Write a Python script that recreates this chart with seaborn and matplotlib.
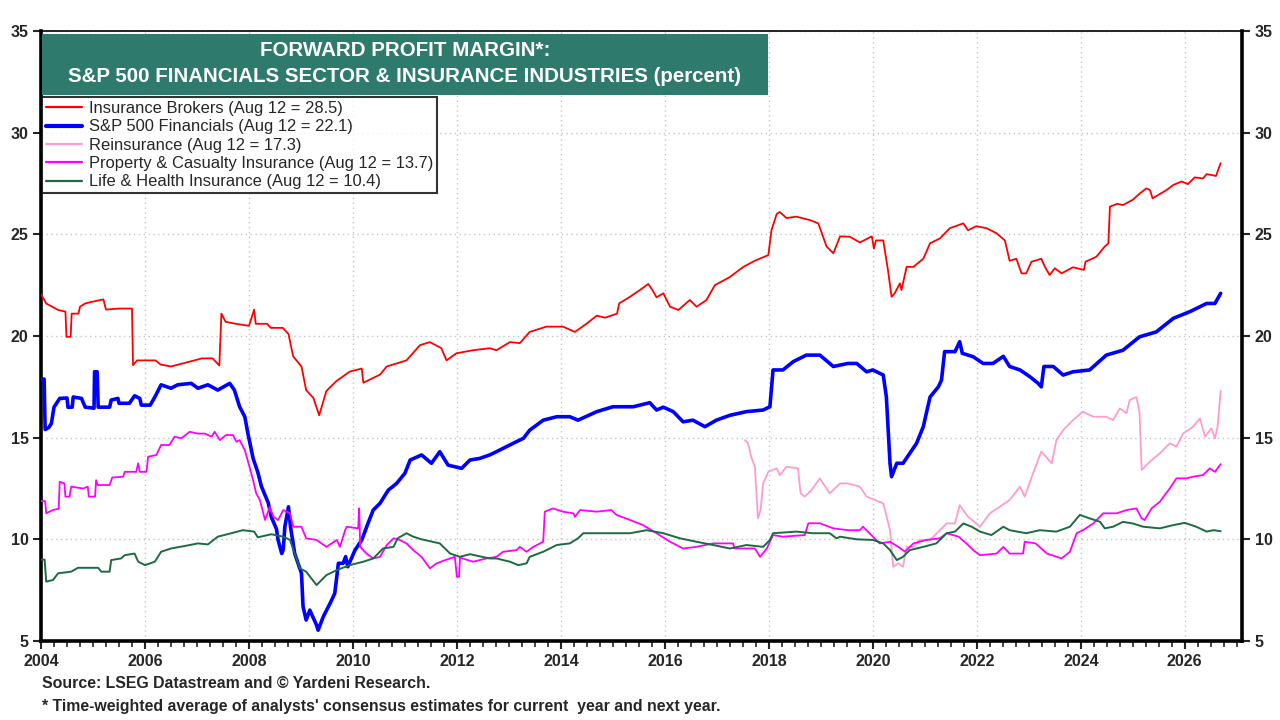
import numpy as np
import pandas as pd
import matplotlib
matplotlib.use("Agg")
import matplotlib.pyplot as plt
from matplotlib.patches import Rectangle
from matplotlib.lines import Line2D
from matplotlib.ticker import MultipleLocator
import seaborn as sns

# ---------------- data (decimal years, percent) ----------------
broker_x = [2004.0, 2004.1, 2004.33, 2004.47, 2004.49, 2004.57, 2004.59, 2004.72, 2004.75, 2004.85, 2004.98, 2005.2,
            2005.25, 2005.5, 2005.75, 2005.77, 2005.85, 2006.2, 2006.3, 2006.5, 2006.8, 2007.1, 2007.3, 2007.43,
            2007.47, 2007.55, 2007.75, 2008.0, 2008.1, 2008.13, 2008.35, 2008.42, 2008.65, 2008.76, 2008.85, 2009.01,
            2009.1, 2009.24, 2009.35, 2009.49, 2009.69, 2009.94, 2010.17, 2010.2, 2010.52, 2010.65, 2011.03, 2011.29,
            2011.48, 2011.7, 2011.8, 2011.99, 2012.31, 2012.63, 2012.76, 2013.02, 2013.21, 2013.4, 2013.72, 2014.04,
            2014.27, 2014.49, 2014.69, 2014.85, 2015.08, 2015.12, 2015.33, 2015.52, 2015.68, 2015.76, 2015.84, 2015.97,
            2016.1, 2016.26, 2016.48, 2016.61, 2016.8, 2016.96, 2017.25, 2017.51, 2017.73, 2017.99, 2018.05, 2018.15,
            2018.21, 2018.34, 2018.53, 2018.79, 2018.95, 2019.11, 2019.24, 2019.37, 2019.56, 2019.75, 2019.98, 2020.02,
            2020.06, 2020.2, 2020.29, 2020.36, 2020.42, 2020.52, 2020.55, 2020.65, 2020.78, 2020.97, 2021.1, 2021.29,
            2021.48, 2021.74, 2021.83, 2021.99, 2022.19, 2022.38, 2022.54, 2022.63, 2022.76, 2022.86, 2022.95, 2023.05,
            2023.24, 2023.31, 2023.4, 2023.5, 2023.63, 2023.85, 2024.06, 2024.09, 2024.3, 2024.46, 2024.53, 2024.56,
            2024.7, 2024.81, 2025.0, 2025.13, 2025.26, 2025.33, 2025.38, 2025.52, 2025.65, 2025.78, 2025.94, 2026.06,
            2026.19, 2026.35, 2026.42, 2026.51, 2026.6, 2026.64, 2026.69]
broker_y = [22.06, 21.6, 21.28, 21.2, 19.96, 19.96, 21.1, 21.1, 21.44, 21.6, 21.68, 21.8,
            21.3, 21.35, 21.35, 18.57, 18.8, 18.8, 18.6, 18.5, 18.7, 18.9, 18.9, 18.55,
            21.1, 20.7, 20.6, 20.5, 21.3, 20.6, 20.6, 20.4, 20.4, 20.1, 19.0, 18.5,
            17.34, 16.95, 16.1, 17.3, 17.8, 18.25, 18.4, 17.7, 18.1, 18.5, 18.8, 19.55,
            19.7, 19.4, 18.8, 19.15, 19.3, 19.4, 19.3, 19.7, 19.65, 20.2, 20.46, 20.46,
            20.2, 20.6, 21.0, 20.9, 21.1, 21.6, 21.93, 22.26, 22.56, 22.26, 21.9, 22.1,
            21.44, 21.28, 21.77, 21.44, 21.77, 22.5, 22.9, 23.4, 23.7, 23.98, 25.2, 26.0,
            26.1, 25.8, 25.87, 25.7, 25.54, 24.4, 24.07, 24.9, 24.88, 24.6, 24.9, 24.3,
            24.7, 24.7, 23.25, 21.93, 22.1, 22.59, 22.26, 23.4, 23.4, 23.8, 24.56, 24.8,
            25.3, 25.54, 25.2, 25.4, 25.3, 25.05, 24.7, 23.7, 23.8, 23.08, 23.08, 23.65,
            23.8, 23.4, 23.0, 23.33, 23.08, 23.38, 23.25, 23.65, 23.9, 24.4, 24.56, 26.36,
            26.5, 26.44, 26.7, 27.0, 27.26, 27.18, 26.77, 26.98, 27.18, 27.43, 27.6, 27.47,
            27.8, 27.75, 27.96, 27.92, 27.87, 28.16, 28.5]

fin_x = [2004.0, 2004.06, 2004.08, 2004.15, 2004.2, 2004.25, 2004.36, 2004.5, 2004.52, 2004.6, 2004.62, 2004.78,
         2004.85, 2005.02, 2005.03, 2005.08, 2005.1, 2005.32, 2005.35, 2005.48, 2005.5, 2005.7, 2005.8, 2005.9,
         2005.93, 2006.1, 2006.19, 2006.31, 2006.5, 2006.63, 2006.89, 2007.02, 2007.21, 2007.4, 2007.63, 2007.72,
         2007.82, 2007.92, 2007.98, 2008.08, 2008.17, 2008.24, 2008.37, 2008.43, 2008.53, 2008.56, 2008.63, 2008.66,
         2008.69, 2008.76, 2008.8, 2008.88, 2009.01, 2009.04, 2009.1, 2009.17, 2009.3, 2009.33, 2009.43, 2009.56,
         2009.65, 2009.72, 2009.81, 2009.86, 2009.9, 2010.04, 2010.17, 2010.29, 2010.39, 2010.52, 2010.68, 2010.84,
         2011.0, 2011.1, 2011.32, 2011.51, 2011.67, 2011.83, 2012.09, 2012.25, 2012.44, 2012.63, 2012.76, 2013.08,
         2013.28, 2013.4, 2013.66, 2013.92, 2014.17, 2014.33, 2014.69, 2015.0, 2015.39, 2015.71, 2015.84, 2015.97,
         2016.16, 2016.35, 2016.54, 2016.77, 2016.99, 2017.25, 2017.57, 2017.89, 2018.02, 2018.08, 2018.27, 2018.47,
         2018.72, 2018.98, 2019.24, 2019.52, 2019.69, 2019.88, 2020.0, 2020.2, 2020.26, 2020.33, 2020.36, 2020.46,
         2020.58, 2020.71, 2020.84, 2020.97, 2021.1, 2021.26, 2021.32, 2021.38, 2021.58, 2021.67, 2021.72, 2021.93,
         2022.12, 2022.31, 2022.51, 2022.63, 2022.83, 2023.02, 2023.18, 2023.24, 2023.29, 2023.47, 2023.66, 2023.85,
         2024.17, 2024.49, 2024.81, 2025.13, 2025.45, 2025.78, 2026.1, 2026.42, 2026.58, 2026.69]
fin_y = [17.88, 17.88, 15.4, 15.5, 15.7, 16.5, 16.93, 16.95, 16.49, 16.5, 17.0, 16.93,
         16.5, 16.45, 18.24, 18.24, 16.5, 16.5, 16.85, 16.93, 16.69, 16.69, 17.06, 16.93,
         16.6, 16.6, 17.0, 17.6, 17.43, 17.6, 17.67, 17.43, 17.6, 17.34, 17.67, 17.34,
         16.52, 16.03, 15.2, 13.98, 13.3, 12.6, 11.8, 11.1, 10.5, 9.97, 9.3, 9.5,
         10.62, 11.6, 10.6, 9.3, 8.33, 6.7, 6.03, 6.52, 5.78, 5.53, 6.2, 6.85,
         7.34, 8.82, 8.82, 9.15, 8.65, 9.47, 9.97, 10.79, 11.44, 11.77, 12.42, 12.75,
         13.25, 13.9, 14.15, 13.74, 14.31, 13.65, 13.49, 13.9, 13.98, 14.15, 14.31, 14.72,
         14.97, 15.37, 15.86, 16.03, 16.03, 15.86, 16.28, 16.52, 16.52, 16.72, 16.36, 16.5,
         16.28, 15.78, 15.86, 15.54, 15.86, 16.1, 16.28, 16.36, 16.52, 18.33, 18.33, 18.74,
         19.06, 19.06, 18.5, 18.65, 18.65, 18.24, 18.33, 18.08, 17.0, 13.74, 13.08, 13.74,
         13.74, 14.23, 14.72, 15.54, 17.0, 17.5, 17.83, 19.23, 19.23, 19.72, 19.15, 18.98,
         18.65, 18.65, 19.0, 18.5, 18.33, 18.0, 17.67, 17.5, 18.5, 18.5, 18.08, 18.24,
         18.33, 19.06, 19.3, 19.96, 20.2, 20.87, 21.2, 21.6, 21.6, 22.1]

reins_x = [2017.54, 2017.6, 2017.66, 2017.73, 2017.79, 2017.84, 2017.89, 2017.99, 2018.15, 2018.21, 2018.34, 2018.56,
           2018.61, 2018.69, 2018.82, 2018.98, 2019.17, 2019.37, 2019.52, 2019.75, 2019.88, 2020.2, 2020.33, 2020.39,
           2020.49, 2020.58, 2020.65, 2020.78, 2020.9, 2021.1, 2021.29, 2021.42, 2021.58, 2021.67, 2021.83, 2022.06,
           2022.25, 2022.44, 2022.63, 2022.83, 2022.92, 2023.08, 2023.24, 2023.44, 2023.53, 2023.66, 2023.85, 2024.04,
           2024.24, 2024.49, 2024.62, 2024.75, 2024.88, 2024.94, 2025.07, 2025.13, 2025.17, 2025.33, 2025.52, 2025.71,
           2025.84, 2025.97, 2026.16, 2026.29, 2026.39, 2026.51, 2026.58, 2026.63, 2026.69]
reins_y = [14.88, 14.72, 14.06, 13.57, 11.03, 11.44, 12.75, 13.32, 13.49, 13.16, 13.57, 13.49,
           12.26, 12.1, 12.42, 13.0, 12.26, 12.75, 12.75, 12.59, 12.1, 11.77, 10.45, 8.65,
           8.82, 8.65, 9.63, 9.63, 9.97, 9.97, 10.45, 10.78, 10.78, 11.68, 11.11, 10.62,
           11.28, 11.6, 11.93, 12.59, 12.1, 13.24, 14.31, 13.74, 14.88, 15.37, 15.86, 16.28,
           16.03, 16.03, 15.86, 16.44, 16.2, 16.85, 17.0, 16.2, 13.41, 13.82, 14.23, 14.72,
           14.56, 15.21, 15.54, 15.95, 15.05, 15.46, 14.97, 15.54, 17.3]

pc_x = [2004.0, 2004.08, 2004.1, 2004.23, 2004.34, 2004.36, 2004.45, 2004.47, 2004.55, 2004.58, 2004.81, 2004.9,
        2004.92, 2005.04, 2005.06, 2005.09, 2005.32, 2005.37, 2005.58, 2005.61, 2005.83, 2005.87, 2005.9, 2006.03,
        2006.06, 2006.22, 2006.31, 2006.47, 2006.57, 2006.7, 2006.86, 2007.02, 2007.15, 2007.28, 2007.34, 2007.44,
        2007.56, 2007.69, 2007.76, 2007.82, 2007.92, 2008.01, 2008.08, 2008.14, 2008.21, 2008.31, 2008.4, 2008.47,
        2008.56, 2008.66, 2008.79, 2008.85, 2009.01, 2009.1, 2009.3, 2009.49, 2009.69, 2009.75, 2009.85, 2009.88,
        2010.1, 2010.12, 2010.14, 2010.26, 2010.39, 2010.52, 2010.65, 2010.78, 2010.9, 2011.03, 2011.16, 2011.32,
        2011.48, 2011.61, 2011.8, 2011.96, 2012.0, 2012.04, 2012.06, 2012.31, 2012.57, 2012.76, 2012.89, 2013.15,
        2013.21, 2013.34, 2013.47, 2013.66, 2013.69, 2013.85, 2014.04, 2014.24, 2014.27, 2014.37, 2014.69, 2014.97,
        2015.07, 2015.33, 2015.58, 2015.84, 2016.1, 2016.35, 2016.61, 2016.93, 2017.31, 2017.34, 2017.73, 2017.83,
        2017.96, 2018.08, 2018.27, 2018.69, 2018.76, 2018.98, 2019.24, 2019.52, 2019.75, 2019.81, 2020.0, 2020.13,
        2020.33, 2020.49, 2020.62, 2020.78, 2021.03, 2021.29, 2021.42, 2021.65, 2021.8, 2021.93, 2022.06, 2022.38,
        2022.51, 2022.63, 2022.89, 2022.92, 2023.13, 2023.35, 2023.63, 2023.79, 2023.92, 2024.04, 2024.24, 2024.43,
        2024.69, 2024.88, 2025.07, 2025.17, 2025.23, 2025.36, 2025.52, 2025.71, 2025.84, 2026.03, 2026.16, 2026.35,
        2026.48, 2026.58, 2026.69]
pc_y = [11.88, 11.88, 11.28, 11.44, 11.5, 12.83, 12.75, 12.1, 12.1, 12.59, 12.5, 12.59,
        12.1, 12.1, 12.91, 12.67, 12.67, 13.04, 13.08, 13.32, 13.32, 13.74, 13.32, 13.32,
        14.06, 14.15, 14.64, 14.64, 15.05, 14.97, 15.29, 15.2, 15.2, 15.05, 15.29, 14.88,
        15.13, 15.13, 14.8, 14.88, 14.39, 13.57, 12.9, 12.26, 11.93, 10.95, 11.6, 11.11,
        10.95, 11.44, 11.28, 10.62, 10.62, 10.05, 9.97, 9.63, 9.97, 9.63, 10.45, 10.62,
        10.54, 11.52, 9.63, 9.3, 9.06, 9.14, 9.72, 10.05, 9.97, 9.8, 9.47, 9.14,
        8.57, 8.82, 9.0, 9.14, 8.16, 8.16, 9.1, 8.9, 9.06, 9.14, 9.39, 9.47,
        9.63, 9.39, 9.63, 9.88, 11.36, 11.52, 11.36, 11.28, 11.11, 11.44, 11.36, 11.44,
        11.2, 10.95, 10.7, 10.3, 9.88, 9.55, 9.63, 9.8, 9.8, 9.55, 9.55, 9.14,
        9.55, 10.21, 10.13, 10.21, 10.79, 10.79, 10.54, 10.45, 10.45, 10.62, 10.13, 9.8,
        9.88, 9.63, 9.39, 9.8, 9.97, 10.05, 10.3, 10.13, 9.8, 9.47, 9.22, 9.3,
        9.63, 9.3, 9.3, 9.88, 9.8, 9.3, 9.06, 9.39, 10.3, 10.45, 10.78, 11.28,
        11.28, 11.44, 11.52, 11.03, 10.95, 11.52, 11.85, 12.5, 13.0, 13.0, 13.08, 13.16,
        13.49, 13.32, 13.7]

lh_x = [2004.0, 2004.07, 2004.1, 2004.23, 2004.33, 2004.58, 2004.71, 2005.1, 2005.16, 2005.32, 2005.35, 2005.54,
        2005.61, 2005.8, 2005.87, 2006.0, 2006.19, 2006.31, 2006.5, 2006.76, 2007.02, 2007.21, 2007.4, 2007.66,
        2007.88, 2008.1, 2008.17, 2008.43, 2008.66, 2008.79, 2008.88, 2008.98, 2009.1, 2009.3, 2009.49, 2009.69,
        2009.94, 2010.2, 2010.39, 2010.58, 2010.78, 2010.86, 2011.03, 2011.16, 2011.32, 2011.67, 2011.87, 2012.06,
        2012.25, 2012.63, 2012.76, 2013.02, 2013.18, 2013.34, 2013.4, 2013.66, 2013.92, 2014.17, 2014.33, 2014.43,
        2015.0, 2015.33, 2015.65, 2015.97, 2016.29, 2016.61, 2016.93, 2017.25, 2017.57, 2017.89, 2018.02, 2018.08,
        2018.53, 2018.85, 2019.17, 2019.3, 2019.37, 2019.69, 2020.0, 2020.2, 2020.33, 2020.46, 2020.58, 2020.71,
        2020.97, 2021.22, 2021.42, 2021.58, 2021.74, 2021.9, 2022.06, 2022.28, 2022.51, 2022.63, 2022.95, 2023.21,
        2023.53, 2023.79, 2023.98, 2024.17, 2024.37, 2024.46, 2024.62, 2024.81, 2025.0, 2025.2, 2025.52, 2025.78,
        2026.0, 2026.22, 2026.42, 2026.55, 2026.69]
lh_y = [9.0, 9.0, 7.92, 8.0, 8.33, 8.41, 8.6, 8.6, 8.41, 8.41, 8.98, 9.06,
        9.22, 9.3, 8.9, 8.73, 8.9, 9.39, 9.55, 9.67, 9.8, 9.75, 10.13, 10.3,
        10.45, 10.38, 10.1, 10.25, 10.13, 9.97, 9.3, 8.57, 8.41, 7.75, 8.24, 8.49,
        8.73, 8.9, 9.06, 9.55, 9.63, 10.05, 10.3, 10.13, 10.0, 9.8, 9.3, 9.14,
        9.27, 9.06, 9.06, 8.9, 8.73, 8.82, 9.14, 9.39, 9.72, 9.8, 10.05, 10.3,
        10.3, 10.3, 10.45, 10.3, 10.05, 9.88, 9.72, 9.55, 9.72, 9.63, 9.97, 10.3,
        10.38, 10.3, 10.3, 10.05, 10.13, 10.0, 9.97, 9.8, 9.47, 8.98, 9.14, 9.47,
        9.63, 9.8, 10.3, 10.38, 10.78, 10.62, 10.38, 10.21, 10.62, 10.45, 10.3, 10.45,
        10.38, 10.62, 11.2, 11.03, 10.86, 10.54, 10.62, 10.86, 10.78, 10.62, 10.54, 10.7,
        10.81, 10.62, 10.38, 10.45, 10.4]

labels = ["Insurance Brokers (Aug 12 = 28.5)",
          "S&P 500 Financials (Aug 12 = 22.1)",
          "Reinsurance (Aug 12 = 17.3)",
          "Property & Casualty Insurance (Aug 12 = 13.7)",
          "Life & Health Insurance (Aug 12 = 10.4)"]
year_ticks = list(range(2004, 2027, 2))
value_ticks = [5, 10, 15, 20, 25, 30, 35]
title_lines = ["FORWARD PROFIT MARGIN*:",
               "S&P 500 FINANCIALS SECTOR & INSURANCE INDUSTRIES (percent)"]
footer_lines = ["Source: LSEG Datastream and \u00a9 Yardeni Research.",
                "* Time-weighted average of analysts' consensus estimates for current  year and next year."]

# ---------------- styling ----------------
sns.set_style("white")
plt.rcParams["font.family"] = ["Liberation Sans", "DejaVu Sans"]

colors = ["#ff0000", "#0000ff", "#ff9ccc", "#ff00ff", "#1c6b43"]
widths = [1.3, 2.6, 1.3, 1.3, 1.4]

fig = plt.figure(figsize=(12.8, 7.2), dpi=100)
ax = fig.add_axes([41 / 1280, 79 / 720, (1242 - 41) / 1280, (641 - 31) / 720])

series = [(broker_x, broker_y), (fin_x, fin_y), (reins_x, reins_y), (pc_x, pc_y), (lh_x, lh_y)]
draw_order = [2, 3, 4, 0, 1]
for i in draw_order:
    xs, ys = series[i]
    df = pd.DataFrame({"year": xs, "value": ys})
    sns.lineplot(data=df, x="year", y="value", color=colors[i], lw=widths[i],
                 estimator=None, sort=False, ax=ax, zorder=3 + i)

ax.set_xlim(2004, 2027.1)
ax.set_ylim(5, 35)
ax.set_xlabel("")
ax.set_ylabel("")
ax.set_xticks(year_ticks)
ax.set_xticklabels([str(y) for y in year_ticks])
ax.xaxis.set_minor_locator(MultipleLocator(0.25))
ax.set_yticks(value_ticks)
ax.set_yticklabels([str(v) for v in value_ticks])

ax.grid(True, which="major", axis="both", linestyle=(0, (1, 2.5)), color="#c4c4c4", lw=1.0, zorder=0)
ax.tick_params(axis="x", which="major", direction="out", length=6, width=1.5, labelsize=11.5, pad=3, bottom=True)
ax.tick_params(axis="x", which="minor", direction="out", length=4, width=1.2, bottom=True)
ax.tick_params(axis="y", which="major", direction="out", length=6, width=1.5, labelsize=11.5,
               left=True, right=True, labelleft=True, labelright=True, pad=3)
for lab in ax.get_xticklabels() + ax.get_yticklabels():
    lab.set_fontweight("bold")
for t in ax.yaxis.get_major_ticks():
    t.label2.set_fontweight("bold")

for side in ["left", "bottom", "right"]:
    ax.spines[side].set_linewidth(2.6)
    ax.spines[side].set_color("black")
ax.spines["top"].set_linewidth(1.2)
ax.spines["top"].set_color("black")

# title box
fig.patches.append(Rectangle((42 / 1280, 1 - 95 / 720), (768 - 42) / 1280, (95 - 34) / 720,
                             transform=fig.transFigure, facecolor="#2e7b6e", edgecolor="none", zorder=10))
fig.text(405 / 1280, 1 - 50 / 720, title_lines[0], color="white", fontsize=14.8, fontweight="bold",
         ha="center", va="center", zorder=11)
fig.text(405 / 1280, 1 - 77 / 720, title_lines[1], color="white", fontsize=14.8, fontweight="bold",
         ha="center", va="center", zorder=11)

# legend
handles = [Line2D([0], [0], color=colors[i], lw=(3.0 if i == 1 else 1.6)) for i in range(5)]
leg = fig.legend(handles, labels, loc="upper left", bbox_to_anchor=(42 / 1280, 1 - 97 / 720),
                 bbox_transform=fig.transFigure, borderaxespad=0, frameon=True, fancybox=False,
                 fontsize=11.9, handlelength=2.2, handletextpad=0.4, labelspacing=0.2,
                 borderpad=0.25)
leg.get_frame().set_edgecolor("black")
leg.get_frame().set_linewidth(1.5)
leg.set_zorder(12)

# footer
fig.text(42 / 1280, 1 - 684 / 720, footer_lines[0], fontsize=11.4, fontweight="bold", ha="left", va="center")
fig.text(42 / 1280, 1 - 706 / 720, footer_lines[1], fontsize=11.4, fontweight="bold", ha="left", va="center")

fig.savefig("out.png", dpi=100)
